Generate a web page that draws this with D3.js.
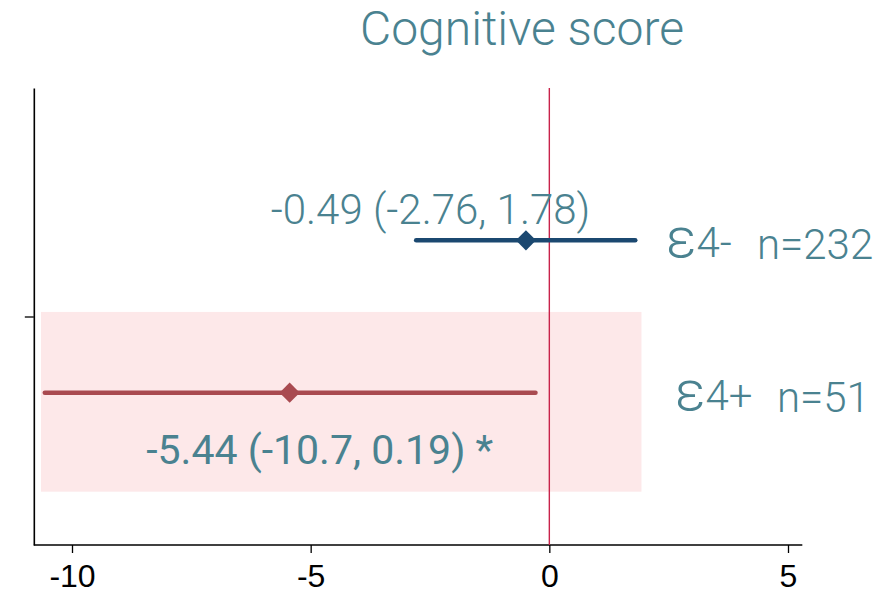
<!DOCTYPE html>
<html><head><meta charset="utf-8">
<script src="https://cdn.jsdelivr.net/npm/d3@7"></script>
<style>body{margin:0;background:#fff}svg{display:block}</style>
</head><body>
<svg id="c" width="884" height="593"></svg>
<script>
const groupSymbol = ["ε", "ε"];
const groupSuffix = ["4-", "4+"];
const ns = ["n=232", "n=51"];
const estimates = [-0.49, -5.44];
const ciLow = [-2.79, -10.57];
const ciHigh = [1.80, -0.29];
const labels = ["-0.49 (-2.76, 1.78)", "-5.44 (-10.7, 0.19) *"];
const rowPos = [2, 1];
const xTicks = [-10, -5, 0, 5];
const band = {x0: -10.65, x1: 1.93, y0: 0.35, y1: 1.53};

const svg = d3.select("#c");
const x = d3.scaleLinear().domain([-10, 5]).range([72, 788]);
const y = d3.scaleLinear().domain([0, 3]).range([545, 88]);
const teal = "#4a8290";
const colors = ["#1b4870", "#a94a50"];

svg.append("text").attr("x", 522).attr("y", 45).attr("text-anchor", "middle")
  .attr("font-family", "Roboto").attr("font-weight", 300).attr("font-size", 48)
  .attr("fill", teal).text("Cognitive score");

svg.append("rect").attr("x", x(band.x0)).attr("width", x(band.x1) - x(band.x0))
  .attr("y", y(band.y1)).attr("height", y(band.y0) - y(band.y1)).attr("fill", "#fde8e9");

// axes
const xAxis = d3.axisBottom(x).tickValues(xTicks).tickSize(8).tickSizeOuter(0).tickFormat(d3.format("d"));
const gx = svg.append("g").attr("transform", `translate(0,${y(0)})`).call(xAxis);
gx.select(".domain").attr("d", `M${x(-10.8)},0H${x(5.3)}`).attr("stroke", "#000").attr("stroke-width", 1.6);
gx.selectAll(".tick line").attr("stroke", "#000").attr("stroke-width", 1.3);
gx.selectAll(".tick text").attr("font-family", "Liberation Sans, Arial").attr("font-size", 32)
  .attr("fill", "#000").attr("y", 42).attr("dy", 0).text(d => d < 0 ? "-" + Math.abs(d) : d);

const yAxis = d3.axisLeft(y).tickValues([1.5]).tickSize(9).tickSizeOuter(0).tickFormat("");
const gy = svg.append("g").attr("transform", `translate(${x(-10.8)},0)`).call(yAxis);
gy.select(".domain").attr("stroke", "#000").attr("stroke-width", 1.6);
gy.selectAll(".tick line").attr("stroke", "#000").attr("stroke-width", 1.3);

// zero line
svg.append("line").attr("x1", x(0)).attr("x2", x(0)).attr("y1", y(3)).attr("y2", y(0))
  .attr("stroke", "#c8234a").attr("stroke-width", 1.4);

// CIs
svg.selectAll(".ci").data(estimates).join("line")
  .attr("x1", (d, i) => x(ciLow[i])).attr("x2", (d, i) => x(ciHigh[i]))
  .attr("y1", (d, i) => y(rowPos[i])).attr("y2", (d, i) => y(rowPos[i]))
  .attr("stroke", (d, i) => colors[i]).attr("stroke-width", 4.5).attr("stroke-linecap", "round");

svg.selectAll(".pt").data(estimates).join("path")
  .attr("d", d3.symbol(d3.symbolDiamond2, 260))
  .attr("transform", (d, i) => `translate(${x(d)},${y(rowPos[i])})`)
  .attr("fill", (d, i) => colors[i]);

// estimate labels
const labPos = [{xv: -2.49, dy: -16, w: 300, fs: 42}, {xv: -4.81, dy: 71, w: 400, fs: 41}];
svg.selectAll(".lab").data(labels).join("text")
  .attr("x", (d, i) => x(labPos[i].xv)).attr("y", (d, i) => y(rowPos[i]) + labPos[i].dy)
  .attr("text-anchor", "middle").attr("font-family", "Roboto")
  .attr("font-weight", (d, i) => labPos[i].w).attr("font-size", (d, i) => labPos[i].fs)
  .attr("fill", teal).text(d => d);

// group labels
const gxPos = [666, 675];
const nxPos = [757, 777];
const gl = svg.selectAll(".grp").data(groupSuffix).join("text")
  .attr("x", (d, i) => gxPos[i]).attr("y", (d, i) => y(rowPos[i]) + 17)
  .attr("font-family", "Roboto").attr("font-weight", 300).attr("font-size", 42)
  .attr("fill", teal);
gl.append("tspan").attr("font-size", 56).attr("font-weight", 300).text((d, i) => groupSymbol[i]);
gl.append("tspan").text(d => d);
svg.selectAll(".nn").data(ns).join("text")
  .attr("x", (d, i) => nxPos[i]).attr("y", (d, i) => y(rowPos[i]) + 19)
  .attr("font-family", "Roboto").attr("font-weight", 300).attr("font-size", 42)
  .attr("fill", teal).text(d => d);
</script>
</body></html>
